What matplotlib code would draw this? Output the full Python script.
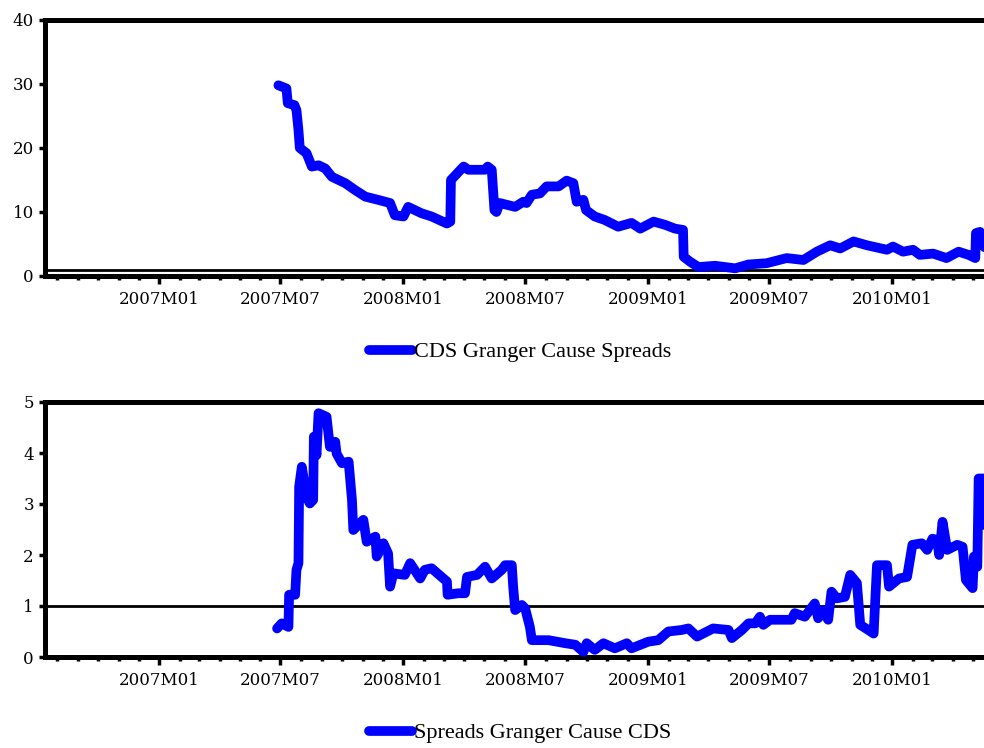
import pandas as pd
import matplotlib
matplotlib.use("Agg")
import matplotlib.pyplot as plt
import matplotlib.dates as mdates
from matplotlib.ticker import FuncFormatter

# rolling Granger causality statistics
cds_dates = ["2007-06-28", "2007-07-10", "2007-07-12", "2007-07-22", "2007-07-25", "2007-07-28",
             "2007-07-30", "2007-08-09", "2007-08-17", "2007-08-27", "2007-09-06", "2007-09-16",
             "2007-10-06", "2007-10-21", "2007-11-05", "2007-11-24", "2007-12-12", "2007-12-19",
             "2008-01-01", "2008-01-08", "2008-01-28", "2008-02-12", "2008-03-06", "2008-03-11",
             "2008-03-12", "2008-03-21", "2008-03-31", "2008-04-07", "2008-05-02", "2008-05-06",
             "2008-05-12", "2008-05-16", "2008-05-19", "2008-05-24", "2008-06-16", "2008-06-28",
             "2008-07-03", "2008-07-11", "2008-07-23", "2008-08-02", "2008-08-20", "2008-09-01",
             "2008-09-11", "2008-09-16", "2008-09-26", "2008-09-30", "2008-10-13", "2008-10-28",
             "2008-11-17", "2008-12-07", "2008-12-20", "2009-01-09", "2009-01-26", "2009-02-10",
             "2009-02-22", "2009-02-23", "2009-03-05", "2009-03-17", "2009-04-11", "2009-05-11",
             "2009-05-31", "2009-06-27", "2009-07-27", "2009-08-21", "2009-09-10", "2009-09-30",
             "2009-10-15", "2009-11-04", "2009-11-24", "2009-12-24", "2010-01-02", "2010-01-17",
             "2010-02-01", "2010-02-11", "2010-03-03", "2010-03-23", "2010-04-10", "2010-04-25",
             "2010-05-05", "2010-05-06", "2010-05-12", "2010-05-15", "2010-05-19"]
cds_values = [29.8, 29.3, 27.0, 26.7, 25.9, 22.8,
              20.0, 19.2, 17.1, 17.3, 16.8, 15.5,
              14.5, 13.4, 12.4, 11.9, 11.4, 9.5,
              9.3, 10.8, 9.8, 9.3, 8.2, 8.5,
              15.0, 16.0, 17.1, 16.6, 16.6, 17.1,
              16.6, 10.3, 10.0, 11.4, 10.8, 11.6,
              11.4, 12.7, 12.9, 14.0, 14.0, 14.9,
              14.5, 11.6, 11.9, 10.3, 9.3, 8.75,
              7.7, 8.3, 7.4, 8.5, 8.0, 7.4,
              7.2, 3.0, 2.2, 1.4, 1.6, 1.2,
              1.8, 2.0, 2.8, 2.5, 3.8, 4.8,
              4.3, 5.4, 4.8, 4.1, 4.6, 3.8,
              4.1, 3.3, 3.5, 2.8, 3.8, 3.3,
              2.8, 6.7, 6.9, 5.0, 4.5]

spr_dates = ["2007-06-26", "2007-07-03", "2007-07-13", "2007-07-14", "2007-07-23", "2007-07-25",
             "2007-07-28", "2007-07-29", "2007-08-02", "2007-08-09", "2007-08-14", "2007-08-19",
             "2007-08-20", "2007-08-24", "2007-08-27", "2007-09-08", "2007-09-13", "2007-09-21",
             "2007-09-23", "2007-10-01", "2007-10-11", "2007-10-16", "2007-10-18", "2007-11-02",
             "2007-11-07", "2007-11-20", "2007-11-22", "2007-12-02", "2007-12-09", "2007-12-12",
             "2007-12-17", "2008-01-03", "2008-01-11", "2008-01-26", "2008-02-02", "2008-02-12",
             "2008-02-27", "2008-03-06", "2008-03-07", "2008-03-23", "2008-04-02", "2008-04-05",
             "2008-04-20", "2008-05-02", "2008-05-12", "2008-05-27", "2008-06-01", "2008-06-11",
             "2008-06-13", "2008-06-16", "2008-06-26", "2008-07-01", "2008-07-08", "2008-07-11",
             "2008-08-05", "2008-08-30", "2008-09-14", "2008-09-26", "2008-10-01", "2008-10-13",
             "2008-10-26", "2008-11-12", "2008-11-30", "2008-12-07", "2009-01-01", "2009-01-16",
             "2009-01-31", "2009-02-20", "2009-03-02", "2009-03-15", "2009-04-08", "2009-05-01",
             "2009-05-06", "2009-05-21", "2009-05-31", "2009-06-10", "2009-06-17", "2009-06-22",
             "2009-07-02", "2009-08-03", "2009-08-08", "2009-08-23", "2009-09-07", "2009-09-12",
             "2009-09-19", "2009-09-27", "2009-10-02", "2009-10-10", "2009-10-22", "2009-10-30",
             "2009-11-09", "2009-11-14", "2009-11-26", "2009-12-04", "2009-12-09", "2009-12-24",
             "2009-12-27", "2010-01-11", "2010-01-23", "2010-01-31", "2010-02-14", "2010-02-22",
             "2010-03-02", "2010-03-09", "2010-03-12", "2010-03-17", "2010-03-24", "2010-04-08",
             "2010-04-16", "2010-04-21", "2010-05-01", "2010-05-03", "2010-05-08", "2010-05-10",
             "2010-05-18", "2010-05-20"]
spr_values = [0.56, 0.66, 0.59, 1.22, 1.22, 1.71,
              1.84, 3.34, 3.73, 3.14, 3.01, 3.08,
              4.32, 3.96, 4.78, 4.71, 4.12, 4.22,
              3.99, 3.80, 3.83, 3.08, 2.49, 2.69,
              2.26, 2.36, 1.97, 2.23, 2.03, 1.38,
              1.64, 1.61, 1.84, 1.54, 1.71, 1.74,
              1.57, 1.48, 1.22, 1.25, 1.25, 1.57,
              1.61, 1.77, 1.54, 1.71, 1.80, 1.80,
              1.38, 0.92, 1.02, 0.95, 0.59, 0.33,
              0.33, 0.27, 0.24, 0.10, 0.27, 0.14,
              0.27, 0.17, 0.27, 0.17, 0.30, 0.33,
              0.50, 0.53, 0.56, 0.40, 0.56, 0.53,
              0.37, 0.53, 0.66, 0.66, 0.79, 0.63,
              0.73, 0.73, 0.86, 0.79, 1.05, 0.76,
              0.92, 0.73, 1.28, 1.15, 1.18, 1.61,
              1.45, 0.63, 0.53, 0.46, 1.80, 1.80,
              1.38, 1.54, 1.57, 2.20, 2.23, 2.10,
              2.32, 2.29, 2.00, 2.65, 2.10, 2.20,
              2.16, 1.51, 1.35, 1.97, 1.77, 3.50,
              3.50, 2.30]

panels = [
    (cds_dates, cds_values, "CDS Granger Cause Spreads", [0, 10, 20, 30, 40], 40),
    (spr_dates, spr_values, "Spreads Granger Cause CDS", [0, 1, 2, 3, 4, 5], 5),
]
threshold = 1

W, H = 984, 748
fig = plt.figure(figsize=(W / 100, H / 100), dpi=100)

# axes boxes in pixels: left, top, right, bottom (right runs off the canvas)
boxes = [(45, 20, 990, 276), (45, 402, 990, 657)]
legend_y = [352, 733]

for (dates, vals, label, yticks, ymax), (l, t, r, b), ly in zip(panels, boxes, legend_y):
    ax = fig.add_axes([l / W, 1 - b / H, (r - l) / W, (b - t) / H])
    ax.plot(pd.to_datetime(dates), vals, color="#0000ff", lw=7,
            solid_capstyle="round", solid_joinstyle="round", label=label, zorder=3)
    ax.axhline(threshold, color="black", lw=2, zorder=2)

    ax.set_xlim(pd.Timestamp("2006-07-14"), pd.Timestamp("2010-05-27"))
    ax.set_ylim(0, ymax)
    ax.set_yticks(yticks)

    ax.xaxis.set_major_locator(mdates.MonthLocator(bymonth=[1, 7]))
    ax.xaxis.set_minor_locator(mdates.MonthLocator())
    ax.xaxis.set_major_formatter(FuncFormatter(
        lambda v, pos: "{}M{:02d}".format(mdates.num2date(v).year, mdates.num2date(v).month)))

    for side in ["top", "left", "bottom"]:
        ax.spines[side].set_linewidth(3.6)
    ax.spines["right"].set_visible(False)

    ax.tick_params(axis="x", which="major", direction="out", length=6, width=2.5,
                   pad=5, labelsize=12)
    ax.tick_params(axis="x", which="minor", direction="out", length=3, width=2.5)
    ax.tick_params(axis="y", direction="out", length=4, width=2.5, pad=4, labelsize=12)
    for lab in ax.get_xticklabels() + ax.get_yticklabels():
        lab.set_fontfamily("DejaVu Serif")

    ax.legend(loc="center", bbox_to_anchor=(520 / W, 1 - ly / H), bbox_transform=fig.transFigure,
              frameon=False, handlelength=1.95, handletextpad=0.1,
              prop={"family": "Liberation Serif", "size": 16})

fig.savefig("out.png", dpi=100)
